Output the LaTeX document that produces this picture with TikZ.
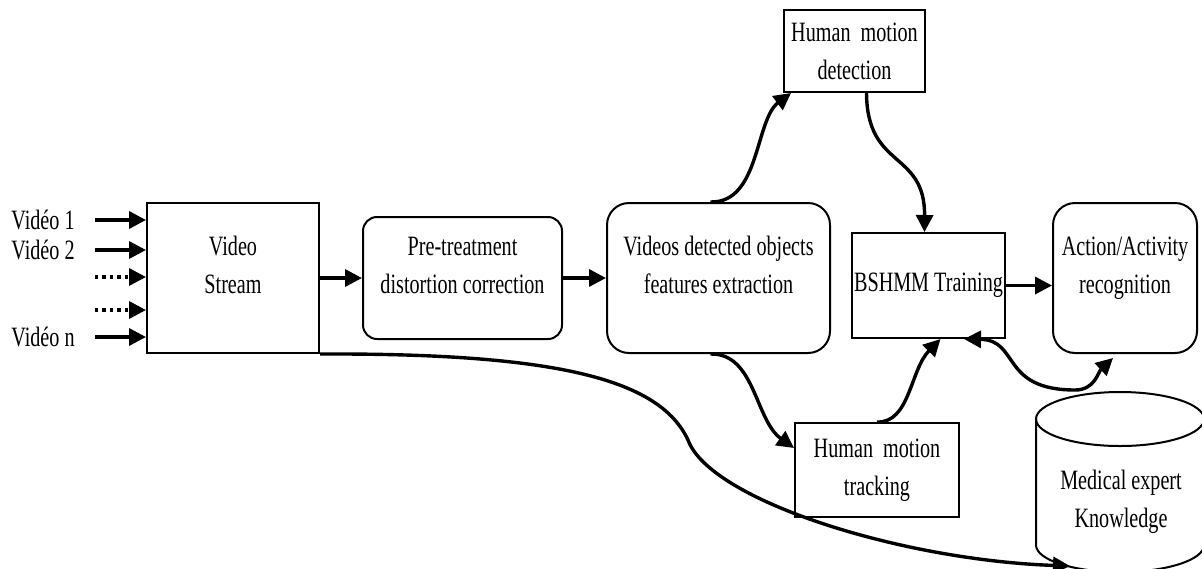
\documentclass[tikz,border=0pt]{standalone}
\usepackage{fontspec}
\setmainfont{Liberation Serif}[FakeStretch=0.72]
\usetikzlibrary{arrows.meta, positioning, calc}
\newcommand{\diagfont}{\fontsize{14}{19}\selectfont}

\begin{document}
\begin{tikzpicture}[
    x=0.5pt, y=-0.5pt,
    bigtip/.tip={Triangle[length=8.5pt, width=8.5pt]},
    box/.style={
        rectangle, draw, line width=1pt, align=center,
        font=\diagfont, inner sep=1pt
    },
    rbox/.style={box, rounded corners=#1},
    rbox/.default=11pt,
    raised/.style={text depth=13pt},
    src/.style={font=\diagfont, anchor=east, inner sep=1pt},
    arr/.style={-bigtip, line width=1.7pt},
    both/.style={bigtip-bigtip, line width=1.7pt}
]
\useasboundingbox (0,0) rectangle (1202,568);

% ===================================================================
% PROCESSING CHAIN
% ===================================================================
\node[box, raised, minimum width=86pt, minimum height=75pt] (stream)
    at (233,278) {Video\\Stream};
\node[rbox=7pt, raised, minimum width=99.5pt, minimum height=61pt,
      right=21pt of stream] (pretreat)
    {Pre-treatment\\distortion correction};
\node[rbox, raised, minimum width=111.5pt, minimum height=75pt,
      right=21.5pt of pretreat] (videos)
    {Videos detected objects\\features extraction};

% Detection / tracking branches
\node[box, minimum width=70.5pt, minimum height=41pt] (detect) at (854.5,51)
    {Human\ \ motion\\detection};
\node[box, minimum width=82pt, minimum height=47pt] (track) at (877,470)
    {Human\ \ motion\\tracking};

% Training and recognition
\node[box, minimum width=76.5pt, minimum height=52.5pt] (bshmm)
    at (928.5,285.5) {BSHMM Training};
\node[rbox, raised, minimum width=72pt, minimum height=75pt] (action)
    at (1125,278) {Action/Activity\\recognition};

% Knowledge base (cylinder)
\draw[line width=1pt] (1036,419) -- (1036,545)
    arc[start angle=180, end angle=360, x radius=42pt, y radius=13.5pt]
    -- (1204,419);
\draw[line width=1pt] (1120,419) ellipse[x radius=42pt, y radius=13.5pt];
\node[font=\diagfont, align=center, inner sep=1pt] (expert) at (1121,502)
    {Medical expert\\Knowledge};

% ===================================================================
% VIDEO INPUTS
% ===================================================================
\node[src] (v1) at (77,220) {Vidéo 1};
\node[src] (v2) at (77,250) {Vidéo 2};
\node[src] (vn) at (77,337) {Vidéo n};
\coordinate (d1) at (95,277);
\coordinate (d2) at (95,310);

\draw[arr] ([xshift=9pt]v1.east) -- (v1.east -| stream.west);
\draw[arr] ([xshift=9pt]v2.east) -- (v2.east -| stream.west);
\draw[arr, dotted] (d1) -- (d1 -| stream.west);
\draw[arr, dotted] (d2) -- (d2 -| stream.west);
\draw[arr] ([xshift=9pt]vn.east) -- (vn.east -| stream.west);

% ===================================================================
% CONNECTORS
% ===================================================================
\draw[arr] (stream.east) -- (stream.east -| pretreat.west);
\draw[arr] (pretreat.east) -- (pretreat.east -| videos.west);
\draw[arr] (bshmm.east) -- (bshmm.east -| action.west);

\draw[arr] ([xshift=-4pt]videos.north)
    .. controls (760,203) and (755,120) .. ([xshift=4pt]detect.south west);
\draw[arr] ([xshift=6pt]detect.south)
    .. controls (867,170) and (925,150) .. ([xshift=-2pt]bshmm.north);
\draw[arr] ([xshift=-4pt]videos.south)
    .. controls (755,353) and (755,420) .. ([yshift=11pt]track.west);
\draw[arr] (track.north)
    .. controls (910,423) and (910,370) .. ([xshift=6pt]bshmm.south);

% Knowledge exchange
\draw[both] ([xshift=-21pt]bshmm.south east)
    .. controls (1020,340) and (1000,390) .. (1075,390)
    .. controls (1095,390) and (1098,372) .. ([xshift=-6pt, yshift=-2pt]action.south);

% Stream to knowledge base
\coordinate (kin) at (1070,566);
\draw[arr] (stream.south east)
    .. controls (560,353) and (660,380) .. (688,440)
    .. controls (710,500) and (900,560) .. (kin);

\end{tikzpicture}
\end{document}
